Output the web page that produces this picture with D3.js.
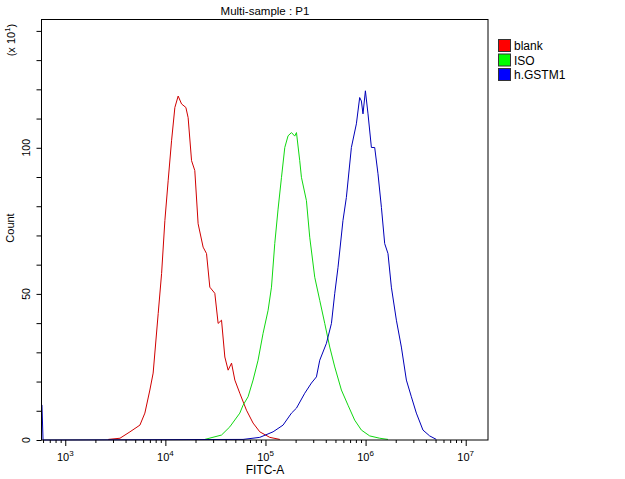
<!DOCTYPE html>
<html>
<head>
<meta charset="utf-8">
<script src="https://cdn.jsdelivr.net/npm/d3@7"></script>
<style>
  body { margin: 0; background: #fff; }
  text { font-family: "Liberation Sans", Arial, sans-serif; fill: #000; }
</style>
</head>
<body>
<div class="chart"></div>
<script>
// sample names and line colours
var samples = ["blank", "ISO", "h.GSTM1"];
var lineColors = ["#d00000", "#10d810", "#0000b8"];
var keyColors = ["#ff0000", "#00ff00", "#0000ff"];

// histogram points: [FITC-A, count]
var blank = [[2690, 2], [3520, 6], [4430, 28], [5570, 51], [6240, 92], [7000, 171], [7550, 229],
  [8480, 433], [9170, 570], [9890, 751], [10660, 887], [11530, 1024], [12440, 1138], [13420, 1177],
  [14510, 1150], [16030, 1138], [16880, 1103], [18260, 956], [19680, 922], [21240, 740],
  [23830, 660], [25770, 638], [27800, 523], [31190, 502], [33650, 399], [36390, 410],
  [39260, 284], [42360, 239], [45810, 263], [49430, 205], [55410, 160], [64570, 102],
  [75170, 58], [87700, 28], [110400, 9], [139000, 2]];

var iso = [[24780, 2], [36390, 17], [44040, 45], [55410, 92], [59700, 119], [66990, 148],
  [75170, 205], [84330, 273], [94620, 365], [106200, 444], [114800, 523], [123800, 672],
  [133600, 790], [144500, 899], [155900, 1001], [168100, 1041], [181800, 1052], [196000, 1040],
  [203900, 1052], [219800, 956], [228600, 899], [256500, 819], [276700, 694], [310500, 557],
  [348400, 478], [390800, 399], [438500, 318], [492000, 250], [573300, 171], [667600, 119],
  [778000, 68], [907800, 34], [1099000, 14], [1384000, 6], [1674000, 2]];

var gstm1 = [[585, 120], [600, 0], [59700, 2], [87700, 9], [119100, 28], [149800, 51],
  [181800, 92], [203900, 109], [246700, 160], [287700, 195], [322800, 216], [348400, 273],
  [406400, 331], [456000, 399], [492000, 502], [530400, 591], [594300, 751], [642700, 830],
  [721100, 1001], [809100, 1082], [873000, 1172], [907800, 1160], [941900, 1116], [995500, 1195],
  [1057000, 1116], [1143000, 1001], [1233000, 1001], [1330000, 911], [1439000, 796],
  [1552000, 672], [1674000, 638], [1809000, 523], [2030000, 410], [2277000, 318],
  [2555000, 205], [2865000, 148], [3214000, 92], [3741000, 34], [4365000, 14], [5090000, 2]];

var decades = [1e3, 1e4, 1e5, 1e6, 1e7];
var decadeExp = ["3", "4", "5", "6", "7"];
var countTicks = [0, 50, 100];

var svgWidth = 625;
var svgHeight = 479;
var plot = { left: 41.5, top: 19.5, right: 488, bottom: 440 };

var svg = d3.select(".chart")
  .append("svg")
  .attr("width", svgWidth)
  .attr("height", svgHeight);

var xScale = d3.scaleLog()
  .domain([579, 1.67e7])
  .range([plot.left, plot.right]);

var yScale = d3.scaleLinear()
  .domain([0, 1439])
  .range([plot.bottom, plot.top]);

// curves
var line = d3.line()
  .x(d => xScale(d[0]))
  .y(d => yScale(d[1]));

[blank, iso, gstm1].forEach(function(series, i) {
  svg.append("path")
    .datum(series)
    .attr("fill", "none")
    .attr("stroke", lineColors[i])
    .attr("stroke-width", 1)
    .attr("d", line);
});

// frame
svg.append("rect")
  .attr("x", plot.left)
  .attr("y", plot.top)
  .attr("width", plot.right - plot.left)
  .attr("height", plot.bottom - plot.top)
  .attr("fill", "none")
  .attr("stroke", "#000")
  .attr("stroke-width", 1);

// x axis: minor ticks then decades
var minorVals = [];
for (var e = 2; e <= 7; e++) {
  for (var m = 1; m <= 9; m++) {
    var v = m * Math.pow(10, e);
    if (v >= 579 && v <= 1.67e7 && m > 1) minorVals.push(v);
  }
}

var minorAxis = d3.axisBottom(xScale).tickValues(minorVals).tickSize(3).tickFormat("");
var majorAxis = d3.axisBottom(xScale).tickValues(decades).tickSize(6).tickFormat("");

[minorAxis, majorAxis].forEach(function(ax) {
  var g = svg.append("g")
    .attr("transform", `translate(0, ${plot.bottom})`)
    .call(ax);
  g.select(".domain").remove();
  g.selectAll("line").attr("stroke", "#000");
});

decades.forEach(function(d, i) {
  var t = svg.append("text")
    .attr("x", xScale(d))
    .attr("y", 461)
    .attr("text-anchor", "middle")
    .attr("font-size", 11);
  t.append("tspan").text("10");
  t.append("tspan").attr("font-size", 8).attr("dy", -5).text(decadeExp[i]);
});

// y axis
var yAxis = d3.axisLeft(yScale)
  .tickValues(d3.range(0, 1401, 100))
  .tickSize(5)
  .tickFormat("");

var yg = svg.append("g")
  .attr("transform", `translate(${plot.left}, 0)`)
  .call(yAxis);
yg.select(".domain").remove();
yg.selectAll("line").attr("stroke", "#000");

countTicks.forEach(function(c) {
  svg.append("text")
    .attr("transform", `translate(30, ${yScale(c * 10)}) rotate(-90)`)
    .attr("text-anchor", "middle")
    .attr("font-size", 10.5)
    .text(c);
});

// axis titles
svg.append("text")
  .attr("x", 265)
  .attr("y", 474)
  .attr("text-anchor", "middle")
  .attr("font-size", 12)
  .text("FITC-A");

svg.append("text")
  .attr("transform", "translate(14, 228) rotate(-90)")
  .attr("text-anchor", "middle")
  .attr("font-size", 11)
  .text("Count");

var unit = svg.append("text")
  .attr("transform", "translate(15, 40) rotate(-90)")
  .attr("text-anchor", "middle")
  .attr("font-size", 11);
unit.append("tspan").text("(x 10");
unit.append("tspan").attr("font-size", 8).attr("dy", -5).text("1");
unit.append("tspan").attr("dy", 5).text(")");

svg.append("text")
  .attr("x", 265)
  .attr("y", 15)
  .attr("text-anchor", "middle")
  .attr("font-size", 11.5)
  .text("Multi-sample : P1");

// legend
var legend = svg.selectAll(".key")
  .data(samples)
  .enter()
  .append("g")
  .attr("transform", (d, i) => `translate(498, ${39 + i * 14.5})`);

legend.append("rect")
  .attr("x", 0.5)
  .attr("y", 0.5)
  .attr("width", 12)
  .attr("height", 12)
  .attr("fill", (d, i) => keyColors[i])
  .attr("stroke", "#333");

legend.append("text")
  .attr("x", 16)
  .attr("y", 11)
  .attr("font-size", 12)
  .text(d => d);
</script>
</body>
</html>
